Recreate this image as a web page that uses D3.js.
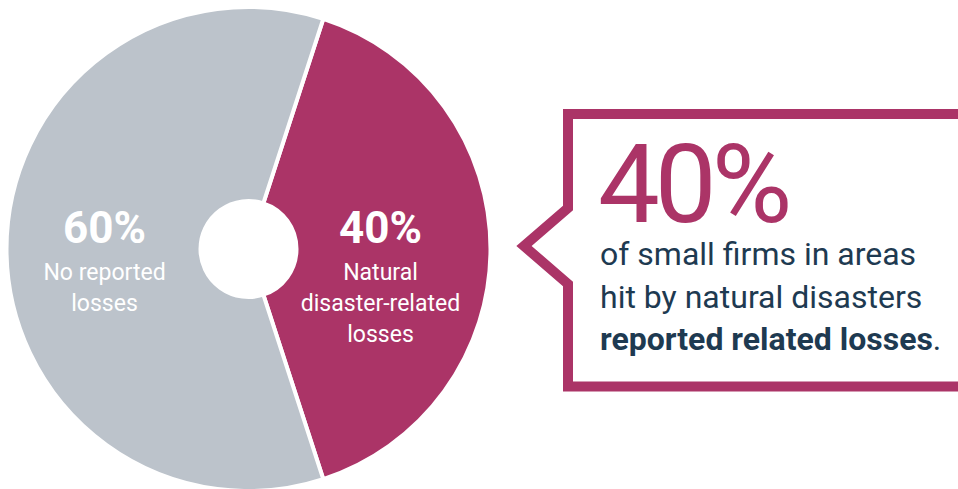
<!DOCTYPE html>
<html>
<head>
<meta charset="utf-8">
<script src="https://cdn.jsdelivr.net/npm/d3@7"></script>
<style>
  html, body { margin: 0; padding: 0; background: #ffffff; }
  svg { display: block; }
</style>
</head>
<body>
<svg id="chart" width="958" height="489"></svg>
<script>
// Share of small firms in disaster-hit areas, by loss status
const categories = ["Natural disaster-related losses", "No reported losses"];
const shares = [40, 60];
const sliceColors = ["#ab3467", "#bcc3cb"];
const percentLabels = ["40%", "60%"];
const labelLines = [["Natural", "disaster-related", "losses"], ["No reported", "losses"]];

// Callout text
const calloutValue = "40%";
const calloutLines = ["of small firms in areas", "hit by natural disasters"];
const calloutBold = "reported related losses";
const calloutTail = ".";

const svg = d3.select("#chart");
const cx = 248.5, cy = 249, outerR = 242, innerR = 48;

const data = categories.map((c, i) => ({ category: c, value: shares[i], color: sliceColors[i],
  pct: percentLabels[i], lines: labelLines[i] }));

const pie = d3.pie()
  .sort(null)
  .value(d => d.value)
  .startAngle(Math.PI / 10)
  .endAngle(Math.PI / 10 + 2 * Math.PI);

const arc = d3.arc().innerRadius(innerR).outerRadius(outerR);
const labelArc = d3.arc().innerRadius(138).outerRadius(138);

const g = svg.append("g").attr("transform", `translate(${cx},${cy})`);

const arcs = pie(data);

g.selectAll("path.slice")
  .data(arcs)
  .join("path")
  .attr("class", "slice")
  .attr("d", arc)
  .attr("fill", d => d.data.color)
  .attr("stroke", "#ffffff")
  .attr("stroke-width", 4)
  .attr("stroke-linejoin", "miter");

// Slice labels
const labels = g.selectAll("g.label")
  .data(arcs)
  .join("g")
  .attr("class", "label")
  .attr("transform", d => {
    const [x, y] = labelArc.centroid(d);
    return `translate(${x - 6},${y})`;
  });

labels.append("text")
  .attr("text-anchor", "middle")
  .attr("y", -6)
  .attr("fill", "#ffffff")
  .attr("font-family", "Roboto, sans-serif")
  .attr("font-weight", 700)
  .attr("font-size", 44)
  .text(d => d.data.pct);

labels.append("text")
  .attr("text-anchor", "middle")
  .attr("fill", "#ffffff")
  .attr("font-family", "Roboto, sans-serif")
  .attr("font-size", 24)
  .attr("transform", "scale(0.96,1)")
  .selectAll("tspan")
  .data(d => d.data.lines)
  .join("tspan")
  .attr("x", 0)
  .attr("y", (d, i) => 31 + i * 31)
  .text(d => d);

// Callout box with pointer toward the highlighted slice
const callout = svg.append("g");
callout.append("path")
  .attr("d", "M 975 114 H 568 V 208 L 524 246 L 568 284 V 386.5 H 975")
  .attr("fill", "#ffffff")
  .attr("stroke", sliceColors[0])
  .attr("stroke-width", 10)
  .attr("stroke-linejoin", "miter");

callout.append("text")
  .attr("x", 598)
  .attr("y", 222)
  .attr("fill", sliceColors[0])
  .attr("font-family", "Roboto, sans-serif")
  .attr("font-size", 110)
  .attr("letter-spacing", -5)
  .text(calloutValue);

const body = callout.append("text")
  .attr("fill", "#1e3a51")
  .attr("font-family", "Roboto, sans-serif")
  .attr("font-size", 32);

calloutLines.forEach((line, i) => {
  body.append("tspan").attr("x", 600).attr("y", 265 + i * 42.5).text(line);
});
const last = body.append("tspan").attr("x", 600).attr("y", 350);
last.append("tspan").attr("font-weight", 700).text(calloutBold);
last.append("tspan").text(calloutTail);
</script>
</body>
</html>
